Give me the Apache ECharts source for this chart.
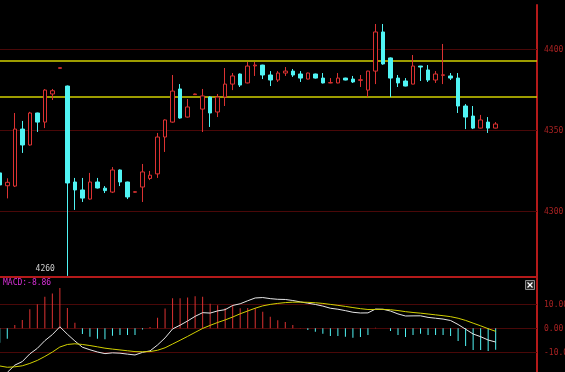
<!DOCTYPE html>
<html><head><meta charset="utf-8">
<script src="https://cdn.jsdelivr.net/npm/echarts@6/dist/echarts.min.js"></script>
<style>html,body{margin:0;padding:0;background:#000}#c{width:565px;height:372px}</style>
</head><body><div id="c"></div><script>
// ---- data ----
const opens  = [4323.4,4315.5,4315.3,4350.4,4340.6,4360.3,4354.7,4372.0,4387.8,4376.9,
                4317.8,4312.9,4307.3,4317.8,4314.0,4311.6,4325.2,4317.8,4311.5,4314.7,
                4320.0,4322.8,4345.5,4354.7,4375.1,4357.8,4371.6,4362.7,4370.1,4360.9,
                4370.1,4378.1,4384.3,4378.8,4389.3,4389.8,4383.7,4380.6,4384.9,4386.1,
                4384.3,4381.2,4384.3,4381.8,4378.8,4378.8,4381.8,4381.2,4380.4,4374.4,
                4386.1,4410.2,4394.2,4381.8,4380.0,4378.1,4389.2,4386.8,4380.6,4383.5,
                4383.1,4381.8,4364.6,4358.4,4351.0,4354.7,4351.0];
const closes = [4316.0,4317.6,4350.4,4340.6,4360.3,4354.7,4374.4,4374.0,4388.2,4317.2,
                4312.9,4307.9,4317.8,4314.1,4312.5,4325.2,4317.8,4308.6,4311.8,4324.0,
                4322.0,4345.5,4356.0,4373.8,4357.2,4364.0,4372.0,4370.8,4360.3,4370.1,
                4378.1,4383.1,4377.5,4389.2,4389.8,4383.7,4380.6,4384.9,4386.1,4383.7,
                4381.8,4384.9,4381.8,4378.8,4379.0,4381.8,4380.6,4379.4,4380.8,4386.1,
                4410.2,4390.5,4381.8,4378.8,4376.9,4389.2,4388.6,4380.6,4384.3,4383.8,
                4381.8,4364.6,4357.8,4351.0,4356.0,4351.0,4353.5];
const lows   = [4315.0,4307.7,4314.7,4335.7,4340.2,4348.6,4351.0,4368.3,4387.8,4260.0,
                4300.6,4305.5,4307.0,4313.8,4311.0,4311.0,4315.3,4307.3,4311.3,4305.5,
                4319.0,4320.3,4336.3,4354.3,4356.8,4357.5,4371.5,4348.6,4351.7,4357.8,
                4364.6,4374.4,4376.3,4378.5,4383.1,4381.2,4376.9,4379.4,4383.1,4382.5,
                4379.4,4381.0,4381.5,4378.5,4378.6,4378.6,4380.4,4378.8,4376.3,4370.1,
                4378.1,4390.0,4370.1,4376.3,4376.7,4378.0,4380.0,4379.4,4378.8,4378.1,
                4380.6,4360.3,4350.4,4350.4,4350.8,4348.0,4350.8];
const highs  = [4324.0,4320.1,4360.3,4355.4,4361.0,4360.5,4375.0,4375.1,4388.2,4377.2,
                4320.3,4320.3,4323.4,4320.3,4315.3,4327.0,4325.5,4318.0,4312.0,4328.9,
                4324.6,4348.0,4356.3,4383.7,4378.1,4368.9,4372.2,4375.1,4370.5,4372.0,
                4388.0,4384.9,4384.6,4391.7,4391.7,4390.0,4386.1,4386.1,4388.6,4387.4,
                4386.1,4385.2,4384.5,4384.9,4381.8,4384.9,4382.0,4383.1,4383.7,4386.3,
                4415.1,4415.1,4394.5,4383.7,4381.8,4396.0,4389.3,4389.8,4386.1,4402.8,
                4384.9,4384.9,4365.8,4364.6,4359.1,4357.8,4354.7];
const macdHist = [-6.0,-4.3,1.4,3.5,7.9,10.0,13.1,14.5,16.8,8.5,
                  2.3,-2.3,-3.5,-4.3,-4.5,-3.1,-2.7,-2.8,-2.8,-0.5,
                  0.6,4.4,8.2,12.5,12.5,12.8,13.3,13.1,10.2,9.6,
                  8.5,9.6,8.3,8.5,8.5,6.9,4.8,3.4,2.6,1.4,
                  0.2,-0.7,-1.4,-2.2,-3.2,-3.2,-3.5,-3.9,-3.6,-2.8,
                  0.3,0.1,-1.1,-2.8,-3.6,-2.8,-2.2,-2.8,-2.8,-2.8,
                  -3.2,-5.2,-7.3,-9.0,-9.0,-9.4,-8.86];
const dif = [-18.6,-18.29,-15.26,-13.78,-10.59,-8.29,-5.10,-2.59,0.66,-2.43,
             -5.24,-7.83,-8.87,-9.80,-10.47,-10.15,-10.29,-10.69,-11.04,-9.95,
             -9.33,-6.88,-3.95,-0.24,1.32,3.07,4.99,6.52,6.35,7.25,
             7.76,9.51,10.20,11.46,12.62,12.79,12.34,12.06,11.99,11.56,
             10.99,10.45,9.93,9.25,8.35,7.95,7.36,6.68,6.38,6.43,
             8.01,7.93,7.19,5.99,5.14,5.19,5.21,4.56,4.21,3.86,
             3.26,1.61,-0.35,-2.33,-3.45,-4.83,-5.66];
const dea = [-15.6,-16.14,-15.96,-15.53,-14.54,-13.29,-11.65,-9.84,-7.74,-6.68,
             -6.39,-6.68,-7.12,-7.65,-8.22,-8.60,-8.94,-9.29,-9.64,-9.70,
             -9.63,-9.08,-8.05,-6.49,-4.93,-3.33,-1.66,-0.03,1.25,2.45,
             3.51,4.71,6.05,7.21,8.37,9.34,9.94,10.36,10.69,10.86,
             10.89,10.80,10.63,10.35,9.95,9.55,9.11,8.63,8.18,7.83,
             7.86,7.88,7.74,7.39,6.94,6.59,6.31,5.96,5.61,5.26,
             4.86,4.21,3.30,2.17,1.05,-0.13,-1.23];
const priceTicks = [4300, 4350, 4400];
const levelLines = [4392.3, 4370.0];
const macdTicks = [-10, 0, 10];
const lowMark = 4260;
const totalSlots = 72;

// ---- build ----
const categories = [];
for (let i = 0; i < totalSlots; i++) categories.push(String(i + 1));
const candleData = opens.map((o, i) => [o, closes[i], lows[i], highs[i]]);
const lowIdx = lows.indexOf(Math.min(...lows));

const RED = '#dc3232', CYAN = '#50f4f4', AXIS = '#b41a1a', GRIDC = '#4a0808', LABEL = '#a82222', YEL = '#d2d000';
const FONT = 'DejaVu Sans Mono';

// horizontal rule across the grid, placed by the axis scale; optional label right of the axis
function hRule(color, width, snap, withLabel, decimals) {
  return function (params, api) {
    const cs = params.coordSys;
    const v = api.value(1);
    const yRaw = api.coord([0, v])[1];
    const y = snap ? Math.round(yRaw) + 0.5 : Math.round(yRaw);
    const children = [{ type: 'line', shape: { x1: cs.x, y1: y, x2: cs.x + cs.width, y2: y },
                        style: { stroke: color, lineWidth: width } }];
    if (withLabel) {
      children.push({ type: 'text', x: cs.x + cs.width + 7, y: Math.round(yRaw) + 0.5,
        style: { text: decimals ? v.toFixed(decimals) : String(v), fill: LABEL, fontSize: 8,
                 fontFamily: FONT, verticalAlign: 'middle', align: 'left' } });
    }
    return { type: 'group', children: children };
  };
}

const option = {
  backgroundColor: '#000',
  animation: false,
  grid: [
    { left: -4, right: 28, top: 5, height: 272, outerBoundsMode: 'none', containLabel: false },
    { left: -4, right: 28, top: 278, bottom: 0, outerBoundsMode: 'none', containLabel: false }
  ],
  xAxis: [
    { type: 'category', gridIndex: 0, data: categories, boundaryGap: true,
      axisLine: { show: true, onZero: false, lineStyle: { color: AXIS, width: 2 } },
      axisTick: { show: false }, axisLabel: { show: false }, splitLine: { show: false } },
    { type: 'category', gridIndex: 1, data: categories, boundaryGap: true,
      axisLine: { show: false, onZero: false }, axisTick: { show: false }, axisLabel: { show: false }, splitLine: { show: false } }
  ],
  yAxis: [
    { type: 'value', gridIndex: 0, position: 'right', min: 4259.3, max: 4426.8, scale: true,
      axisLine: { show: true, lineStyle: { color: AXIS, width: 2 } },
      axisTick: { show: false }, axisLabel: { show: false }, splitLine: { show: false } },
    { type: 'value', gridIndex: 1, position: 'right', min: -18.1, max: 20.9,
      axisLine: { show: true, lineStyle: { color: AXIS, width: 2 } },
      axisTick: { show: false }, axisLabel: { show: false }, splitLine: { show: false } }
  ],
  series: [
    { type: 'custom', xAxisIndex: 0, yAxisIndex: 0, z: 1, silent: true, clip: false,
      data: priceTicks.map(v => [0, v]), renderItem: hRule(GRIDC, 1, true, true, 0) },
    { type: 'custom', xAxisIndex: 0, yAxisIndex: 0, z: 1, silent: true, clip: false,
      data: levelLines.map(v => [0, v]), renderItem: hRule(YEL, 1.3, false, false, 0) },
    {
      type: 'candlestick', xAxisIndex: 0, yAxisIndex: 0, data: candleData, barWidth: 4, z: 3,
      itemStyle: { color: '#000', color0: CYAN, borderColor: RED, borderColor0: CYAN, borderWidth: 1 },
      markPoint: {
        symbol: 'circle', symbolSize: 1, silent: true, animation: false,
        itemStyle: { color: 'rgba(0,0,0,0)' },
        data: [{ coord: [lowIdx, lowMark], value: lowMark,
          label: { show: true, position: 'left', distance: 12, offset: [0, -7], formatter: String(lowMark),
                   color: '#d0d0d0', fontSize: 8, fontFamily: FONT } }]
      }
    },
    { type: 'custom', xAxisIndex: 1, yAxisIndex: 1, z: 1, silent: true, clip: false,
      data: macdTicks.map(v => [0, v]), renderItem: hRule(GRIDC, 1, true, true, 2) },
    {
      type: 'bar', xAxisIndex: 1, yAxisIndex: 1, barWidth: 1, z: 2,
      data: macdHist.map(v => ({ value: v, itemStyle: { color: v >= 0 ? RED : CYAN } }))
    },
    { type: 'line', xAxisIndex: 1, yAxisIndex: 1, data: dif, symbol: 'none', z: 4,
      lineStyle: { color: '#e6e6e6', width: 1 } },
    { type: 'line', xAxisIndex: 1, yAxisIndex: 1, data: dea, symbol: 'none', z: 4,
      lineStyle: { color: YEL, width: 1 } }
  ],
  graphic: [
    { type: 'text', left: 3, top: 279, z: 10,
      style: { text: 'MACD:' + macdHist[macdHist.length - 1].toFixed(2), fill: '#d830d8', fontSize: 8, fontFamily: FONT } },
    { type: 'group', left: 525, top: 280, z: 10, children: [
      { type: 'rect', shape: { x: 0, y: 0, width: 9, height: 9 }, style: { fill: '#262626', stroke: '#8a8a8a', lineWidth: 1 } },
      { type: 'line', shape: { x1: 2, y1: 2, x2: 7, y2: 7 }, style: { stroke: '#ffffff', lineWidth: 1.2 } },
      { type: 'line', shape: { x1: 7, y1: 2, x2: 2, y2: 7 }, style: { stroke: '#ffffff', lineWidth: 1.2 } }
    ] }
  ]
};
const chart = echarts.init(document.getElementById('c'), null, { renderer: 'canvas' });
chart.setOption(option);
</script></body></html>
